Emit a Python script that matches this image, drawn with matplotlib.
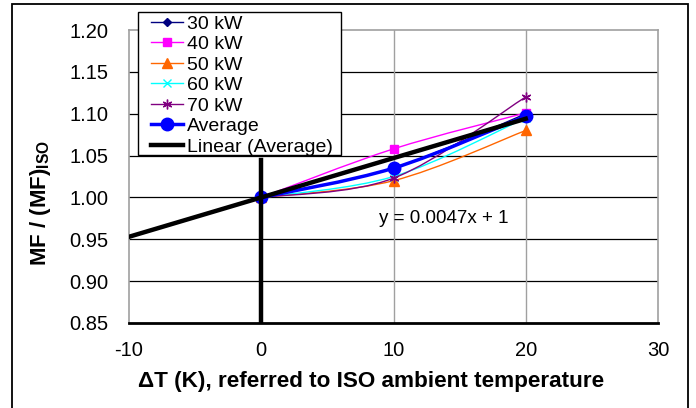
import matplotlib
matplotlib.use("Agg")
import matplotlib.pyplot as plt
from matplotlib.path import Path
from matplotlib.patches import PathPatch, Rectangle
from matplotlib.lines import Line2D
import numpy as np

plt.rcParams['font.family'] = ['Liberation Sans', 'DejaVu Sans']
plt.rcParams['mathtext.fontset'] = 'custom'
plt.rcParams['mathtext.rm'] = 'Liberation Sans:bold'
plt.rcParams['mathtext.bf'] = 'Liberation Sans:bold'
plt.rcParams['mathtext.default'] = 'bf'

# Data
dT = [0, 10, 20]
mf_30 = [1.000, 1.035, 1.100]
mf_40 = [1.000, 1.058, 1.101]
mf_50 = [1.000, 1.020, 1.080]
mf_60 = [1.000, 1.025, 1.095]
mf_70 = [1.000, 1.023, 1.120]
mf_avg = [1.000, 1.035, 1.097]
slope = 0.0047
intercept = 1.0
trend_x = [-10, 20]
xticks = [-10, 0, 10, 20, 30]
yticks = [0.85, 0.90, 0.95, 1.00, 1.05, 1.10, 1.15, 1.20]

fig = plt.figure(figsize=(6.96, 4.08), dpi=100)
ax = fig.add_axes([129/696, 1-323/408, (658-129)/696, (323-30)/408])

def smooth_path(xs, ys):
    pts = np.column_stack([xs, ys]).astype(float)
    n = len(pts)
    verts = [pts[0]]
    codes = [Path.MOVETO]
    for i in range(n-1):
        p0 = pts[i-1] if i > 0 else pts[i]
        p1 = pts[i]
        p2 = pts[i+1]
        p3 = pts[i+2] if i+2 < n else pts[i+1]
        c1 = p1 + (p2 - p0) / 6.0
        c2 = p2 - (p3 - p1) / 6.0
        verts += [c1, c2, p2]
        codes += [Path.CURVE4]*3
    return Path(verts, codes)

series = [
    ("30 kW", mf_30, "#000080", "D", 4.5, 1.0),
    ("40 kW", mf_40, "#FF00FF", "s", 6, 1.0),
    ("50 kW", mf_50, "#FF6600", "^", 6.5, 1.0),
    ("60 kW", mf_60, "#00FFFF", "x", 6, 1.0),
    ("70 kW", mf_70, "#800080", (6, 2, 0), 7, 1.0),
    ("Average", mf_avg, "#0000FF", "o", 9, 2.5),
]

handles = []
for i, (lab, ys, col, mk, ms, lw) in enumerate(series):
    z = 3 + i
    ax.add_patch(PathPatch(smooth_path(dT, ys), fill=False, edgecolor=col, lw=lw, zorder=z))
    ax.plot(dT, ys, ls='none', marker=mk, ms=ms, color=col, mec=col, mew=1.0, zorder=z)
    handles.append(Line2D([0], [0], color=col, lw=lw, marker=mk, ms=ms, mec=col, mew=1.0))

tx = np.array(trend_x, dtype=float)
ax.plot(tx, slope*tx + intercept, color='black', lw=3.2, zorder=10)
handles.append(Line2D([0], [0], color='black', lw=3.2))
ax.plot([0, 0], [0.85, 1.045], color='black', lw=3.2, zorder=10)

ax.text(13.8, 0.975, "y = 0.0047x + 1", ha='center', va='center', fontsize=13.5)

ax.set_xlim(-10, 30)
ax.set_ylim(0.85, 1.20)
ax.set_xticks(xticks)
ax.set_yticks(yticks)
ax.set_xticklabels([f"{v:d}" for v in xticks])
ax.set_yticklabels([f"{v:.2f}" for v in yticks])
ax.tick_params(axis='both', length=0, labelsize=14.5)
ax.tick_params(axis='y', pad=15)
ax.tick_params(axis='x', pad=13)
for y in yticks[1:-1]:
    ax.axhline(y, color='black', lw=0.9, zorder=1)
for x in [10, 20]:
    ax.axvline(x, color='#A0A0A0', lw=1.0, zorder=1)
for s in ['left', 'top', 'right']:
    ax.spines[s].set_color('#A0A0A0')
    ax.spines[s].set_linewidth(1.2)
ax.spines['bottom'].set_color('black')
ax.spines['bottom'].set_linewidth(2.0)

ax.set_xlabel("\u0394T (K), referred to ISO ambient temperature", fontsize=16.2,
              fontweight='bold')
ax.xaxis.label.set_va('center')
ax.xaxis.set_label_coords((371-129)/529, -(381-323)/293)
ax.set_ylabel(r"MF / (MF)$_{\mathbf{ISO}}$", fontsize=16, fontweight='bold')
ax.yaxis.label.set_va('center')
ax.yaxis.label.set_ha('center')
ax.yaxis.set_label_coords((41-129)/529, (323-203)/293)

labels = [s[0] for s in series] + ["Linear (Average)"]
leg = fig.legend(handles, labels, loc='upper left', bbox_to_anchor=(151/696, 1-15/408),
                 fontsize=14, frameon=False,
                 handlelength=1.65, handletextpad=0.2, labelspacing=0.15,
                 borderpad=0, borderaxespad=0)
leg.set_zorder(21)
fig.patches.append(Rectangle((138/696, 1-155/408), (341-138)/696, (155-12)/408,
                             transform=fig.transFigure, facecolor='white',
                             edgecolor='black', lw=1.0, zorder=20))

fig.patches.append(Rectangle((12/696, -0.1), (688-12)/696, 1.1 - 4/408,
                             transform=fig.transFigure, fill=False, edgecolor='black', lw=1.3))

fig.savefig("out.png", dpi=100)
